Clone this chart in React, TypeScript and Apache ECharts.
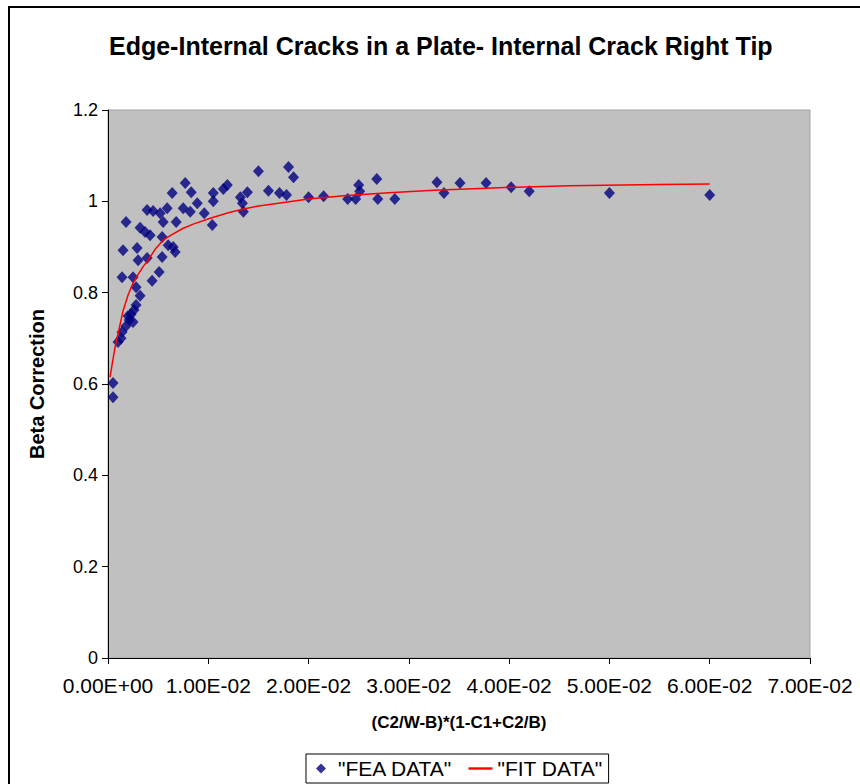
import React, { useEffect, useRef } from "react";
import * as echarts from "echarts";

const TITLE = "Edge-Internal Cracks in a Plate- Internal Crack Right Tip";
const X_NAME = "(C2/W-B)*(1-C1+C2/B)";
const Y_NAME = "Beta Correction";
const FEA_NAME = '"FEA DATA"';
const FIT_NAME = '"FIT DATA"';

const feaX = [
  0.0005, 0.0005, 0.001, 0.0013, 0.0014, 0.0018, 0.0021, 0.0023, 0.0026, 0.002,
  0.0025, 0.0028, 0.0028, 0.0032, 0.0014, 0.0025, 0.0044, 0.0051, 0.003, 0.0039,
  0.0054, 0.0015, 0.0029, 0.006, 0.0067, 0.0065, 0.0042, 0.0054, 0.0032, 0.0037,
  0.0018, 0.0055, 0.0068, 0.0039, 0.0045, 0.0052, 0.0059, 0.0064, 0.0077, 0.0083,
  0.0075, 0.0082, 0.0089, 0.0096, 0.0104, 0.0105, 0.0105, 0.0115, 0.0119, 0.0132,
  0.0139, 0.0134, 0.0135, 0.015, 0.016, 0.0171, 0.0178, 0.018, 0.0185, 0.02,
  0.0215, 0.0239, 0.0247, 0.025, 0.0251, 0.0268, 0.0269, 0.0286, 0.0328, 0.0335,
  0.0351, 0.0377, 0.0402, 0.042, 0.05, 0.06,
];
const feaY = [
  0.571, 0.602, 0.692, 0.7, 0.714, 0.727, 0.74, 0.753, 0.762, 0.749,
  0.736, 0.773, 0.812, 0.793, 0.834, 0.834, 0.826, 0.845, 0.871, 0.876,
  0.878, 0.893, 0.898, 0.904, 0.889, 0.9, 0.926, 0.922, 0.942, 0.933,
  0.955, 0.955, 0.955, 0.981, 0.979, 0.974, 0.985, 1.018, 1.04, 1.02,
  0.985, 0.977, 0.996, 0.974, 0.948, 1.018, 1.0, 1.027, 1.036, 1.009,
  1.02, 0.996, 0.977, 1.066, 1.023, 1.018, 1.014, 1.075, 1.053, 1.009,
  1.011, 1.005, 1.005, 1.036, 1.022, 1.049, 1.005, 1.005, 1.042, 1.018,
  1.04, 1.04, 1.031, 1.022, 1.018, 1.014,
];

const fitX = [
  0.0002, 0.0007, 0.001, 0.0015, 0.002, 0.0025, 0.003, 0.0035, 0.004, 0.0047,
  0.0055, 0.0062, 0.0075, 0.0085, 0.0102, 0.012, 0.0135, 0.015, 0.017, 0.02,
  0.0235, 0.028, 0.0325, 0.039, 0.046, 0.055, 0.06,
];
const fitY = [
  0.615, 0.68, 0.71, 0.76, 0.795, 0.821, 0.84, 0.857, 0.871, 0.895,
  0.915, 0.925, 0.941, 0.95, 0.963, 0.975, 0.983, 0.99, 0.996, 1.005,
  1.012, 1.019, 1.024, 1.03, 1.034, 1.037, 1.038,
];

const xTicks = { min: 0, max: 0.07, interval: 0.01 };
const yTicks = { min: 0, max: 1.2, interval: 0.2 };

function sci(v: number): string {
  if (v === 0) return "0.00E+00";
  const exp = Math.floor(Math.log10(Math.abs(v)) + 1e-9);
  const mant = v / Math.pow(10, exp);
  const sign = exp < 0 ? "-" : "+";
  const e = Math.abs(exp).toString().padStart(2, "0");
  return mant.toFixed(2) + "E" + sign + e;
}

export default function App() {
  const ref = useRef<HTMLDivElement>(null);
  useEffect(() => {
    document.body.style.margin = "0";
    const chart = echarts.init(ref.current!, null, { renderer: "svg" });
    const font = "Liberation Sans, Arial, sans-serif";
    chart.setOption({
      animation: false,
      backgroundColor: "#ffffff",
      textStyle: { fontFamily: font, color: "#000" },
      title: {
        text: TITLE,
        left: 109,
        top: 33,
        padding: 0,
        textStyle: { fontFamily: font, fontSize: 25, fontWeight: "bold", color: "#000" },
      },
      graphic: [
        {
          type: "rect",
          shape: { x: 9, y: 7, width: 900, height: 900 },
          style: { fill: "none", stroke: "#000", lineWidth: 2 },
          silent: true,
        },
      ],
      grid: {
        left: 108,
        right: 50,
        top: 110,
        bottom: 126,
        show: true,
        backgroundColor: "#c0c0c0",
        borderColor: "#a0a0a0",
        borderWidth: 1,
      },
      legend: {
        bottom: 1,
        left: 306,
        padding: [4, 6, 4, 10],
        borderColor: "#000",
        borderWidth: 1,
        itemWidth: 24,
        itemHeight: 10,
        itemGap: 16,
        symbolKeepAspect: true,
        textStyle: { fontFamily: font, fontSize: 21, color: "#000" },
        data: [
          { name: FEA_NAME, icon: "path://M5,0 L10,5 L5,10 L0,5 Z" },
          { name: FIT_NAME, icon: "path://M0,0 L24,0 L24,2.4 L0,2.4 Z" },
        ],
      },
      xAxis: {
        type: "value",
        ...xTicks,
        name: X_NAME,
        nameLocation: "middle",
        nameGap: 56,
        nameTextStyle: { fontFamily: font, fontSize: 17, fontWeight: "bold", color: "#000" },
        axisLine: { show: true, onZero: false, lineStyle: { color: "#000", width: 1 } },
        axisTick: { show: true, inside: false, length: 6, lineStyle: { color: "#000" } },
        axisLabel: { formatter: (v: number) => sci(v), fontSize: 21, color: "#000", margin: 17, fontFamily: font },
        splitLine: { show: false },
      },
      yAxis: {
        type: "value",
        ...yTicks,
        name: Y_NAME,
        nameLocation: "middle",
        nameGap: 61,
        nameTextStyle: { fontFamily: font, fontSize: 20, fontWeight: "bold", color: "#000" },
        axisLine: { show: true, onZero: false, lineStyle: { color: "#000", width: 1 } },
        axisTick: { show: true, inside: false, length: 6, lineStyle: { color: "#000" } },
        axisLabel: { fontSize: 18, color: "#000", margin: 10, fontFamily: font },
        splitLine: { show: false },
      },
      series: [
        {
          name: FEA_NAME,
          type: "scatter",
          symbol: "diamond",
          symbolSize: [11, 12],
          itemStyle: { color: "#000080" },
          data: feaX.map((x, i) => [x, feaY[i]]),
          z: 3,
        },
        {
          name: FIT_NAME,
          type: "line",
          symbol: "none",
          smooth: false,
          lineStyle: { color: "#ff0000", width: 1.5 },
          itemStyle: { color: "#ff0000" },
          data: fitX.map((x, i) => [x, fitY[i]]),
          z: 4,
        },
      ],
    });
    return () => chart.dispose();
  }, []);
  return <div ref={ref} style={{ width: 860, height: 784 }} />;
}
